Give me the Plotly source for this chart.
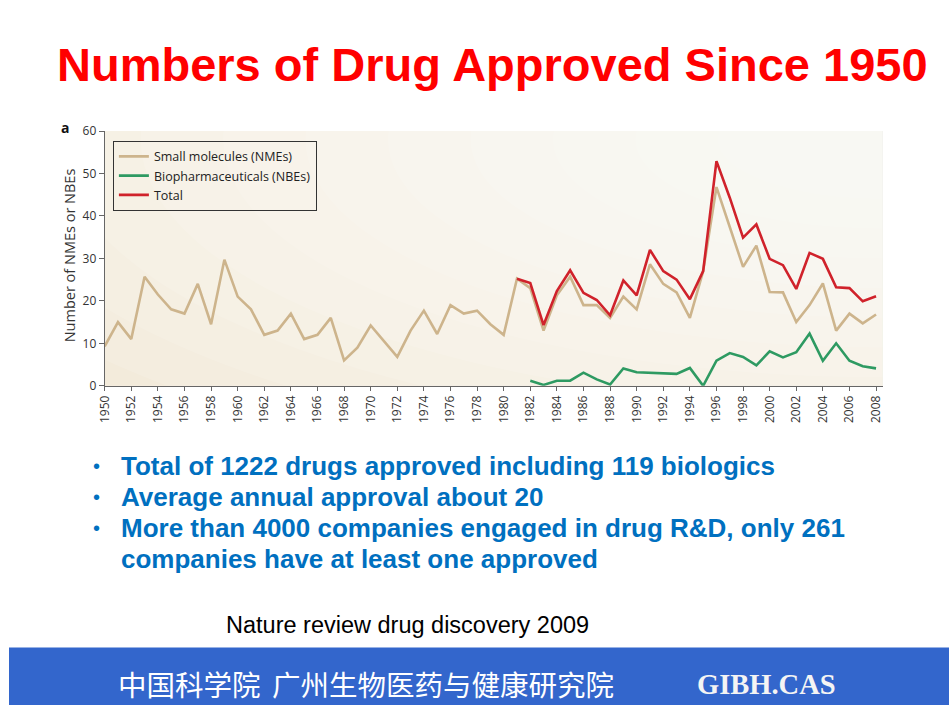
import plotly.graph_objects as go

# ---- data ----
years_nme = list(range(1950, 2009))
small_molecules = [
    9.3, 15, 11, 25.7, 21.5, 18, 17, 24, 14.5, 29.7,
    21, 18, 12, 13, 17, 11, 12, 16, 6, 9,
    14.2, 10.5, 6.8, 13, 17.7, 12.2, 19, 17, 17.7, 14.5,
    12, 25.2, 23, 13, 21.3, 25.7, 19, 19, 16, 21,
    18, 28.6, 24, 22, 16, 27, 46.8, 37.4, 28, 33,
    22.1, 22, 15, 19, 24.1, 13, 17, 14.7, 16.8,
]

years_nbe = list(range(1982, 2009))
biopharma = [
    1.2, 0.2, 1.2, 1.2, 3.1, 1.5, 0.3, 4.1, 3.2, 3.1,
    3.0, 2.8, 4.2, 0, 5.9, 7.7, 6.8, 4.8, 8.1, 6.7,
    7.9, 12.3, 5.9, 10, 5.9, 4.6, 4.1,
]

years_total = list(range(1981, 2009))
total = [
    25.2, 24.2, 14.3, 22.3, 27.2, 21.9, 20.2, 16.6, 24.8, 21.3,
    32, 27, 25, 20.4, 27, 52.9, 44.3, 34.9, 38, 29.9,
    28.4, 22.8, 31.3, 29.9, 23.2, 23, 19.9, 21.1,
]

x_tick_vals = list(range(1950, 2009, 2))
y_tick_vals = [0, 10, 20, 30, 40, 50, 60]

series_names = ["Small molecules (NMEs)", "Biopharmaceuticals (NBEs)", "Total"]
series_colors = ["#cdb48c", "#2e9a62", "#d0222b"]

title_text = "Numbers of Drug Approved Since 1950"
bullets = [
    "Total of 1222 drugs approved including 119 biologics",
    "Average annual approval about 20",
    "More than 4000 companies engaged in drug R&D, only 261",
]
bullet_cont = "companies have at least one approved"
source_text = "Nature review drug discovery 2009"
footer_cn_1 = "中国科学院"
footer_cn_2 = "广州生物医药与健康研究院"
footer_en = "GIBH.CAS"

W, H = 950, 713
CHART_FONT = "Open Sans"


def px(x):
    return x / W


def py(y):
    return 1 - y / H


fig = go.Figure()
for xs, ys, name, color in [
    (years_nme, small_molecules, series_names[0], series_colors[0]),
    (years_nbe, biopharma, series_names[1], series_colors[1]),
    (years_total, total, series_names[2], series_colors[2]),
]:
    fig.add_trace(go.Scatter(
        x=xs, y=ys, name=name, mode="lines",
        line=dict(color=color, width=2.6),
        hoverinfo="x+y+name",
    ))

# soft radial-like background gradient (light toward upper right)
shapes = []
n_layers = 14
for i in range(n_layers):
    f = 1.5 - i * (1.4 / n_layers)
    shapes.append(dict(
        type="circle", xref="x", yref="y", layer="below",
        x0=2008.5 - f * 62, x1=2008.5 + f * 62,
        y0=58 - f * 70, y1=58 + f * 70,
        fillcolor="rgba(255,255,255,0.12)", line=dict(width=0),
    ))
# footer band
shapes.append(dict(
    type="rect", xref="paper", yref="paper", layer="below",
    x0=0, x1=1, y0=0, y1=py(654),
    fillcolor="#3366cc", line=dict(width=0),
))

annotations = [
    dict(text=title_text, x=px(489), y=py(57), xref="paper", yref="paper",
         showarrow=False, xanchor="center", yanchor="middle",
         font=dict(family="Liberation Sans", size=47, color="#ff0000", weight="bold")),
    dict(text="<b>a</b>", x=px(57), y=py(121), xref="paper", yref="paper",
         showarrow=False, xanchor="center", yanchor="middle",
         font=dict(family=CHART_FONT, size=14, color="#111111")),
    dict(text="Number of NMEs or NBEs", x=px(62), y=py(252), xref="paper", yref="paper",
         showarrow=False, xanchor="center", yanchor="middle", textangle=-90,
         font=dict(family=CHART_FONT, size=14.5, color="#333333")),
]

bullet_y = [468, 500, 532]
for txt, yy in zip(bullets, bullet_y):
    annotations.append(dict(text="•", x=px(88), y=py(yy), xref="paper", yref="paper",
                            showarrow=False, xanchor="center", yanchor="middle",
                            font=dict(family="Liberation Sans", size=20, color="#0070c0")))
    annotations.append(dict(text=txt, x=px(111), y=py(yy), xref="paper", yref="paper",
                            showarrow=False, xanchor="left", yanchor="middle",
                            font=dict(family="Liberation Sans", size=26, color="#0070c0",
                                      weight="bold")))
annotations.append(dict(text=bullet_cont, x=px(111), y=py(563), xref="paper", yref="paper",
                        showarrow=False, xanchor="left", yanchor="middle",
                        font=dict(family="Liberation Sans", size=26, color="#0070c0",
                                  weight="bold")))
annotations.append(dict(text=source_text, x=px(217), y=py(631), xref="paper", yref="paper",
                        showarrow=False, xanchor="left", yanchor="middle",
                        font=dict(family="Liberation Sans", size=23.5, color="#000000")))
annotations.append(dict(text=footer_cn_1, x=px(108), y=py(691), xref="paper", yref="paper",
                        showarrow=False, xanchor="left", yanchor="middle",
                        font=dict(family="Noto Sans CJK SC", size=28.5, color="#ffffff")))
annotations.append(dict(text=footer_cn_2, x=px(264), y=py(691), xref="paper", yref="paper",
                        showarrow=False, xanchor="left", yanchor="middle",
                        font=dict(family="Noto Sans CJK SC", size=28.5, color="#ffffff")))
annotations.append(dict(text=footer_en, x=px(693), y=py(692), xref="paper", yref="paper",
                        showarrow=False, xanchor="left", yanchor="middle",
                        font=dict(family="Liberation Serif", size=28.5, color="#f4f4f4",
                                  weight="bold")))

fig.update_layout(
    width=W, height=H, autosize=False,
    margin=dict(l=0, r=0, t=0, b=0, pad=0),
    paper_bgcolor="#ffffff",
    plot_bgcolor="#efe3cb",
    shapes=shapes,
    annotations=annotations,
    showlegend=True,
    legend=dict(
        x=px(105), y=py(135), xanchor="left", yanchor="top",
        bgcolor="rgba(0,0,0,0)", bordercolor="#333333", borderwidth=1,
        font=dict(family=CHART_FONT, size=12.5, color="#222222"),
        itemwidth=30, tracegroupgap=0,
    ),
    xaxis=dict(
        domain=[px(96.7), px(883)],
        range=[1950, 2008.5],
        tickmode="array", tickvals=x_tick_vals,
        ticktext=[str(v) for v in x_tick_vals],
        tickangle=-90, ticks="outside", ticklen=4, tickcolor="#666666",
        showline=True, linecolor="#666666", linewidth=1,
        showgrid=False, zeroline=False,
        tickfont=dict(family=CHART_FONT, size=12, color="#333333"),
        anchor="y",
    ),
    yaxis=dict(
        domain=[py(386), py(125)],
        range=[0, 60],
        tickmode="array", tickvals=y_tick_vals,
        ticks="outside", ticklen=5, tickcolor="#666666",
        showline=True, linecolor="#666666", linewidth=1,
        showgrid=False, zeroline=False,
        tickfont=dict(family=CHART_FONT, size=12, color="#333333"),
        anchor="x",
    ),
)

fig.write_html(
    "out.html",
    config={"displayModeBar": False},
    post_script="document.body.style.margin='0';document.body.style.overflow='hidden';",
)
